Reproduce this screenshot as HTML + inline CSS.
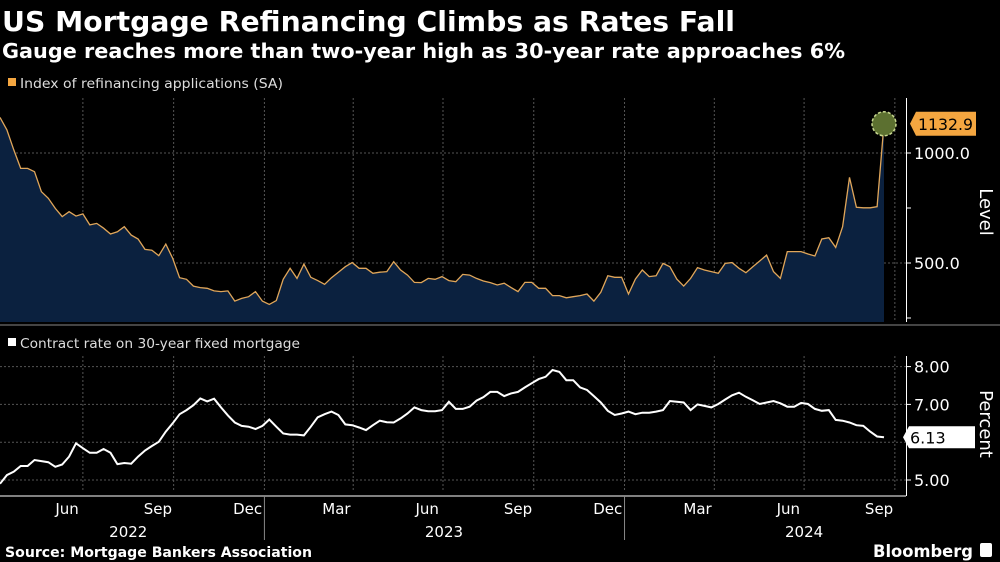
<!DOCTYPE html>
<html><head><meta charset="utf-8"><style>
html,body{margin:0;padding:0;background:#000;}
svg{display:block;}
text{font-family:"DejaVu Sans","Liberation Sans",sans-serif;}
</style></head><body>
<svg id="chart" width="1000" height="562" viewBox="0 0 1000 562" xmlns="http://www.w3.org/2000/svg">
<rect width="1000" height="562" fill="#000"/>
<text x="2" y="31" fill="#fff" font-size="28" font-weight="bold" textLength="733" lengthAdjust="spacingAndGlyphs">US Mortgage Refinancing Climbs as Rates Fall</text>
<text x="2" y="58" fill="#fff" font-size="20" font-weight="bold" textLength="843" lengthAdjust="spacingAndGlyphs">Gauge reaches more than two-year high as 30-year rate approaches 6%</text>
<rect x="8" y="78" width="8" height="8" fill="#f4a640"/>
<text x="20" y="88" fill="#ddd" font-size="13" textLength="263" lengthAdjust="spacingAndGlyphs">Index of refinancing applications (SA)</text>
<rect x="8" y="338" width="8" height="8" fill="#fff"/>
<text x="20" y="348" fill="#ddd" font-size="13" textLength="280" lengthAdjust="spacingAndGlyphs">Contract rate on 30-year fixed mortgage</text>
<g id="grid"></g>
<g id="topg"></g>
<g id="bottomg"></g>
<g id="axes"></g>
<rect x="0" y="324" width="1000" height="2" fill="#444"/>
<text x="5" y="557" fill="#fff" font-size="14" font-weight="bold" textLength="307" lengthAdjust="spacingAndGlyphs">Source: Mortgage Bankers Association</text>
<text x="873" y="557" fill="#fff" font-size="17" font-weight="bold" textLength="100" lengthAdjust="spacingAndGlyphs">Bloomberg</text>
<rect x="980" y="543" width="12" height="14" rx="2" fill="#fff"/>
</svg>
<script>
const refiValues=[1162,1105,1014,930,930,915,824,794,748,711,733,713,723,673,680,658,632,642,665,627,609,562,558,533,586,521,433,426,395,388,385,373,370,373,327,339,347,370,327,312,329,426,476,430,495,435,420,403,433,458,483,502,476,476,453,458,461,506,468,445,412,411,430,426,438,420,415,448,445,430,418,411,400,408,388,370,412,412,385,385,352,352,342,347,352,359,327,367,442,435,435,359,427,468,438,442,498,483,427,395,430,479,468,461,453,498,502,476,456,483,509,536,461,430,552,552,552,541,532,609,615,571,665,889,753,751,751,756,1132.9];
const rateValues=[4.90,5.13,5.22,5.37,5.37,5.53,5.50,5.47,5.35,5.41,5.62,5.97,5.84,5.72,5.72,5.82,5.72,5.42,5.45,5.43,5.62,5.78,5.90,6.01,6.28,6.50,6.74,6.85,6.98,7.16,7.08,7.15,6.92,6.71,6.52,6.43,6.41,6.35,6.43,6.60,6.41,6.23,6.20,6.20,6.18,6.41,6.66,6.74,6.81,6.72,6.47,6.45,6.39,6.32,6.45,6.57,6.53,6.52,6.63,6.76,6.92,6.85,6.82,6.82,6.85,7.07,6.88,6.88,6.94,7.10,7.19,7.33,7.33,7.22,7.29,7.33,7.45,7.56,7.67,7.73,7.91,7.86,7.64,7.64,7.45,7.38,7.22,7.05,6.83,6.72,6.76,6.81,6.74,6.78,6.78,6.81,6.85,7.09,7.07,7.05,6.85,7.00,6.96,6.92,7.01,7.13,7.24,7.31,7.20,7.11,7.01,7.05,7.09,7.03,6.94,6.94,7.04,7.01,6.88,6.83,6.85,6.59,6.57,6.52,6.45,6.43,6.28,6.15,6.13];
const monthLabels=["Jun","Sep","Dec","Mar","Jun","Sep","Dec","Mar","Jun","Sep"];
const monthDayOffsets=[68,160,251,341,433,525,616,707,799,891];
const quarterDayOffsets=[84,176,268,358,449,541,633,724,815,907];
const yearLabels=["2022","2023","2024"];
const yearDayOffsets=[130,450,815];
const yearDividerDays=[268,633];
const refiTicks=[250,500,750,1000];
const refiTickLabels=["","500.0","","1000.0"];
const rateTicks=[5,6,7,8];
const rateTickLabels=["5.00","","7.00","8.00"];

(function(){
const NS="http://www.w3.org/2000/svg";
const X0=0,XW=884;
const xIdx=(i,n)=>X0+i*XW/(n-1);
const xDay=d=>d*XW/((refiValues.length-1)*7);
const yTop=v=>263-(v-500)*0.22;
const yBot=v=>480-(v-5)*37.8;
function el(tag,attrs,parent){const e=document.createElementNS(NS,tag);for(const k in attrs)e.setAttribute(k,attrs[k]);parent.appendChild(e);return e;}
const grid=document.getElementById('grid'),topG=document.getElementById('topg'),botG=document.getElementById('bottomg'),axes=document.getElementById('axes');

quarterDayOffsets.forEach(d=>{
  const x=xDay(d);
  const a=el('line',{x1:x,x2:x,y1:98,y2:322,stroke:'#555','stroke-dasharray':'2,2','stroke-width':1},grid);
  
  
  const b=el('line',{x1:x,x2:x,y1:356,y2:492,stroke:'#555','stroke-dasharray':'2,2','stroke-width':1},grid);
  
  
});
refiTicks.forEach((t,i)=>{
  const y=yTop(t);
  if(refiTickLabels[i]){
    const g=el('line',{x1:0,x2:906,y1:y,y2:y,stroke:'#555','stroke-dasharray':'2,2'},grid);
    
    
    const tx=el('text',{x:914,y:y+6,fill:'#fff','font-size':16},axes);
    tx.textContent=refiTickLabels[i];
    
    
  }
  const tk=el('line',{x1:906,x2:911,y1:y,y2:y,stroke:'#fff'},axes);
  
  
});
const ta=el('line',{x1:906.5,x2:906.5,y1:98,y2:322,stroke:'#fff'},axes);


const tt=el('text',{x:980,y:212,fill:'#fff','font-size':18,transform:'rotate(90 980 212)','text-anchor':'middle'},axes);
tt.textContent='Level';



let n=refiValues.length,pts=refiValues.map((v,i)=>xIdx(i,n).toFixed(1)+','+yTop(v).toFixed(1));
const area=el('polygon',{points:'0,322 '+pts.join(' ')+' '+xIdx(n-1,n)+',322',fill:'#0b213f'},topG);


const ln=el('polyline',{points:pts.join(' '),fill:'none',stroke:'#e0a65a','stroke-width':1.3},topG);


const lx=xIdx(n-1,n),ly=yTop(refiValues[n-1]);
const c=el('circle',{cx:lx,cy:ly,r:12,fill:'#5c7030',stroke:'#c8d890','stroke-dasharray':'3,2','stroke-width':1.5},topG);


const lb=el('polygon',{points:`910,${ly} 916,${ly-12} 976,${ly-12} 976,${ly+12} 916,${ly+12}`,fill:'#f4a640'},axes);


const lt=el('text',{x:918,y:ly+6,fill:'#000','font-size':16,textLength:55,lengthAdjust:'spacingAndGlyphs'},axes);
lt.textContent=refiValues[n-1].toFixed(1);



rateTicks.forEach((t,i)=>{
  const y=yBot(t);
  const g=el('line',{x1:0,x2:906,y1:y,y2:y,stroke:'#555','stroke-dasharray':'2,2'},grid);
  
  
  const tk=el('line',{x1:906,x2:911,y1:y,y2:y,stroke:'#fff'},axes);
  
  
  if(rateTickLabels[i]){
    const tx=el('text',{x:914,y:y+6,fill:'#fff','font-size':16},axes);
    tx.textContent=rateTickLabels[i];
    
    
  }
});
const ba=el('line',{x1:906.5,x2:906.5,y1:356,y2:496,stroke:'#fff'},axes);


const bt=el('text',{x:980,y:424,fill:'#fff','font-size':18,transform:'rotate(90 980 424)','text-anchor':'middle'},axes);
bt.textContent='Percent';


let m=rateValues.length,rp=rateValues.map((v,i)=>xIdx(i,m).toFixed(1)+','+yBot(v).toFixed(1));
const rl=el('polyline',{points:rp.join(' '),fill:'none',stroke:'#fff','stroke-width':2},botG);


const ry=yBot(rateValues[m-1]);
const rb=el('polygon',{points:`903,${ry} 909,${ry-11} 975,${ry-11} 975,${ry+11} 909,${ry+11}`,fill:'#fff'},axes);


const rt=el('text',{x:910,y:ry+6,fill:'#000','font-size':16},axes);
rt.textContent=rateValues[m-1].toFixed(2);



const xa=el('line',{x1:0,x2:906,y1:496,y2:496,stroke:'#fff'},axes);


monthLabels.forEach((s,i)=>{
  const t=el('text',{x:xDay(monthDayOffsets[i]),y:514,fill:'#fff','font-size':15,'text-anchor':'middle'},axes);
  t.textContent=s;
  
  
});
yearLabels.forEach((s,i)=>{
  const t=el('text',{x:xDay(yearDayOffsets[i]),y:537,fill:'#fff','font-size':15,'text-anchor':'middle'},axes);
  t.textContent=s;
  
  
});
yearDividerDays.forEach(d=>{
  const l=el('line',{x1:xDay(d),x2:xDay(d),y1:496,y2:540,stroke:'#888'},axes);
  
  
});
})();
</script>
</body></html>
